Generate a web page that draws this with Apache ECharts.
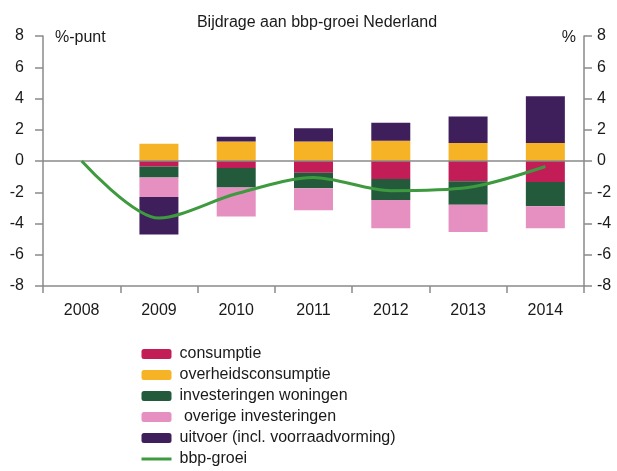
<!DOCTYPE html>
<html>
<head>
<meta charset="utf-8">
<script src="https://cdn.jsdelivr.net/npm/echarts@6/dist/echarts.min.js"></script>
<style>
  html, body { margin: 0; padding: 0; background: #fff; }
  #chart { width: 617px; height: 471px; }
</style>
</head>
<body>
<div id="chart"></div>
<script>
  const years = ['2008', '2009', '2010', '2011', '2012', '2013', '2014']
  // bijdragen in %-punt
  const consumptie = [0, -0.35, -0.45, -0.75, -1.15, -1.3, -1.35]
  const overheidsconsumptie = [0, 1.1, 1.25, 1.25, 1.3, 1.15, 1.15]
  const woningen = [0, -0.7, -1.25, -1.0, -1.35, -1.5, -1.55]
  const overigeInv = [0, -1.25, -1.85, -1.4, -1.8, -1.75, -1.4]
  const uitvoer = [0, -2.4, 0.3, 0.85, 1.15, 1.7, 3.0]
  // bbp-groei in %
  const bbpGroei = [0, -3.65, -2.1, -1.05, -1.9, -1.7, -0.35]
  const yTicks = [-8, -6, -4, -2, 0, 2, 4, 6, 8]

  const font = 'Liberation Sans, Arial, sans-serif'
  const axisGray = '#8a8a8a'
  const chart = echarts.init(document.getElementById('chart'))

  /** gedeelde y-as instellingen */
  function yAxis(position, name) {
    return {
      type: 'value', position, min: yTicks[0], max: yTicks[yTicks.length - 1], interval: 2,
      name, nameLocation: 'end', nameGap: -2,
      nameTextStyle: {
        fontFamily: font, fontSize: 16, color: '#1a1a1a', verticalAlign: 'middle',
        align: position === 'left' ? 'left' : 'right',
        padding: position === 'left' ? [0, 0, 0, 12] : [0, 8, 0, 0],
      },
      axisLine: {show: true, lineStyle: {color: axisGray, width: 1.5}},
      axisTick: {show: true, length: 8, lineStyle: {color: axisGray, width: 1.5}},
      axisLabel: {fontFamily: font, fontSize: 16, color: '#1a1a1a', margin: position === 'left' ? 19 : 13},
      splitLine: {show: false},
    }
  }

  function bar(name, data, color, extra) {
    return Object.assign({
      name, type: 'bar', stack: 'bijdrage', data, barWidth: 39,
      itemStyle: {color}, emphasis: {disabled: true},
    }, extra || {})
  }

  const option = {
    backgroundColor: '#fff',
    animation: false,
    title: {
      text: 'Bijdrage aan bbp-groei Nederland', left: 312, top: 10, textAlign: 'center',
      textStyle: {fontFamily: font, fontSize: 16, fontWeight: 'normal', color: '#1a1a1a'},
    },
    grid: {left: 43, right: 33, top: 36, bottom: 185},
    legend: {
      orient: 'vertical', left: 140, top: 346, height: 200, padding: 0,
      itemWidth: 30, itemHeight: 10, itemGap: 5,
      textStyle: {fontFamily: font, fontSize: 16, color: '#1a1a1a', padding: [0, 0, 0, 3]},
      data: ['consumptie', 'overheidsconsumptie', 'investeringen woningen', ' overige investeringen',
        'uitvoer (incl. voorraadvorming)',
        {name: 'bbp-groei', itemStyle: {opacity: 0}, lineStyle: {width: 3}}],
    },
    xAxis: {
      type: 'category', data: years, position: 'bottom',
      axisLine: {onZero: false, lineStyle: {color: axisGray, width: 1.5}},
      axisTick: {show: true, length: 7, alignWithLabel: false, lineStyle: {color: axisGray, width: 1.5}},
      axisLabel: {fontFamily: font, fontSize: 16, color: '#1a1a1a', margin: 17},
    },
    yAxis: [yAxis('left', '%-punt'), yAxis('right', '%')],
    series: [
      bar('consumptie', consumptie, '#c21d57', {
        markLine: {
          silent: true, symbol: 'none', label: {show: false},
          lineStyle: {color: axisGray, width: 1.5, type: 'solid'},
          data: [{yAxis: 0}],
        },
      }),
      bar('overheidsconsumptie', overheidsconsumptie, '#f5b325'),
      bar('investeringen woningen', woningen, '#245a3c'),
      bar(' overige investeringen', overigeInv, '#e590c0'),
      bar('uitvoer (incl. voorraadvorming)', uitvoer, '#3f1e5c'),
      {
        name: 'bbp-groei', type: 'line', yAxisIndex: 1, data: bbpGroei, smooth: 0.3,
        symbol: 'none', lineStyle: {color: '#3e9a3e', width: 3}, itemStyle: {color: '#3e9a3e'},
        emphasis: {disabled: true}, z: 5,
      },
    ],
  }
  chart.setOption(option)
</script>
</body>
</html>
